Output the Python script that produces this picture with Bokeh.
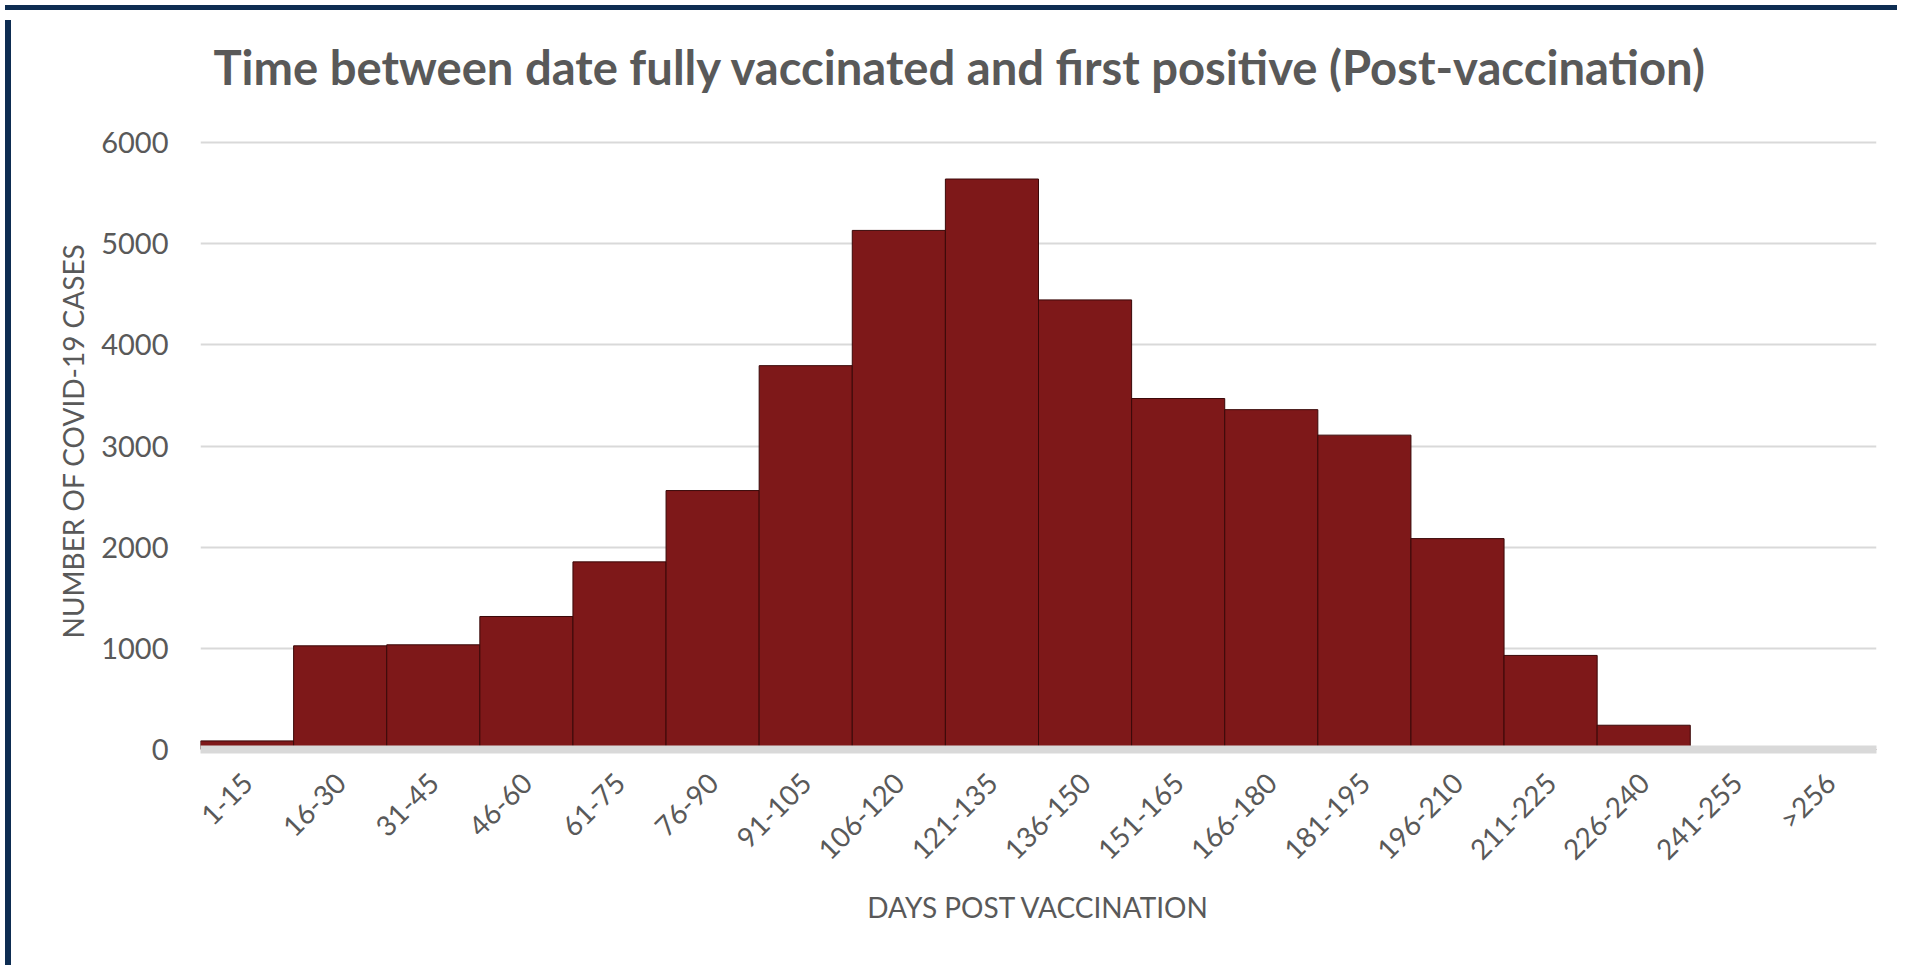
import math
from bokeh.plotting import figure
from bokeh.models import Range1d, FactorRange, Div, ColumnDataSource
from bokeh.core.properties import value
from bokeh.layouts import column, row
from bokeh.embed import file_html
from bokeh.resources import INLINE

title_text = "Time between date fully vaccinated and first positive (Post-vaccination)"
categories = ["1-15", "16-30", "31-45", "46-60", "61-75", "76-90", "91-105",
              "106-120", "121-135", "136-150", "151-165", "166-180", "181-195",
              "196-210", "211-225", "226-240", "241-255", ">256"]
cases = [85, 1025, 1035, 1315, 1855, 2560, 3795, 5132, 5640, 4445, 3470,
         3360, 3108, 2085, 930, 240, 0, 0]
y_ticks = [0, 1000, 2000, 3000, 4000, 5000, 6000]

TEXT = "#595959"
BAR = "#7E1819"
NAVY = "#0E2D52"

W = 1886
HT = 100          # title strip height
HM = 845          # main chart height

# ---- title strip (its own small figure) ----
t = figure(width=W, height=HT, x_range=Range1d(0, W), y_range=Range1d(0, HT),
           output_backend="svg", toolbar_location=None,
           x_axis_location=None, y_axis_location=None,
           min_border_left=0, min_border_right=0,
           min_border_top=0, min_border_bottom=0)
t.grid.visible = False
t.outline_line_color = None
t.border_fill_color = "white"
t.text(x=[855], y=[49], text=[title_text], text_font=value("Lato"),
       text_font_style="bold", text_font_size="47.2px", text_color=TEXT,
       text_align="center", text_baseline="alphabetic")

# ---- main chart ----
p = figure(x_range=FactorRange(*categories, range_padding=0),
           y_range=Range1d(0, 6100),
           width=W, height=HM, output_backend="svg", toolbar_location=None,
           min_border_left=184, min_border_right=26, min_border_top=17,
           min_border_bottom=211)
p.outline_line_color = None
p.background_fill_color = "white"
p.border_fill_color = "white"

src = ColumnDataSource(dict(cat=categories, val=cases))
p.vbar(x="cat", top="val", width=1.0, source=src, fill_color=BAR,
       line_color="#3A0808", line_width=1)

p.ygrid.grid_line_color = "#D9D9D9"
p.ygrid.grid_line_width = 2
p.xgrid.grid_line_color = None

p.yaxis.ticker = y_ticks
p.yaxis.axis_line_color = None
p.yaxis.major_tick_line_color = None
p.yaxis.minor_tick_line_color = None
p.yaxis.major_label_standoff = 26
p.yaxis.major_label_text_font = "Lato"
p.yaxis.major_label_text_font_size = "29px"
p.yaxis.major_label_text_color = TEXT
p.yaxis.axis_label = "NUMBER OF COVID-19 CASES"
p.yaxis.axis_label_text_font = "Lato"
p.yaxis.axis_label_text_font_size = "28px"
p.yaxis.axis_label_text_font_style = "normal"
p.yaxis.axis_label_text_color = TEXT
p.yaxis.axis_label_standoff = 8

p.xaxis.axis_line_color = "#D9D9D9"
p.xaxis.axis_line_width = 8
p.xaxis.major_tick_line_color = None
p.xaxis.minor_tick_line_color = None
p.xaxis.major_label_orientation = math.pi / 4
p.xaxis.major_label_standoff = 22
p.xaxis.major_label_text_font = "Lato"
p.xaxis.major_label_text_font_size = "28px"
p.xaxis.major_label_text_color = TEXT
p.xaxis.axis_label = "DAYS POST VACCINATION"
p.xaxis.axis_label_text_font = "Lato"
p.xaxis.axis_label_text_font_size = "28px"
p.xaxis.axis_label_text_font_style = "normal"
p.xaxis.axis_label_text_color = TEXT
p.xaxis.axis_label_standoff = 9

top_bar = Div(text="", width=W + 6, height=5, styles={"background-color": NAVY})
left_bar = Div(text="", width=6, height=HT + HM, styles={"background-color": NAVY})
layout = column(top_bar, row(left_bar, column(t, p, spacing=0), spacing=0), spacing=0)

open("out.html", "w").write(file_html(layout, INLINE))
